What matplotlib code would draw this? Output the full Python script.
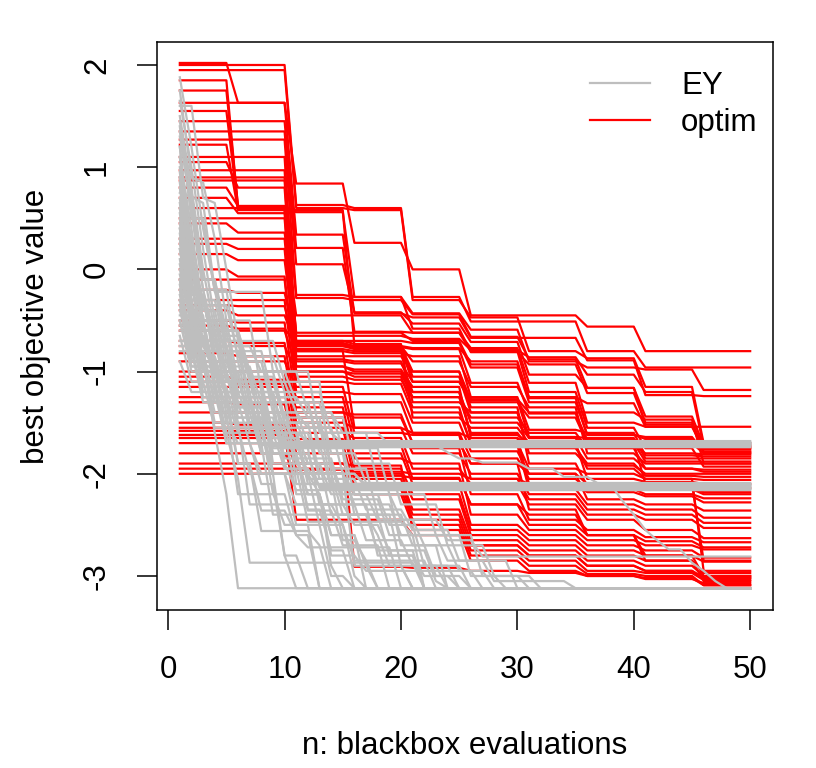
import matplotlib
matplotlib.use("Agg")
import matplotlib.pyplot as plt
from matplotlib.lines import Line2D
import numpy as np

plt.rcParams['font.family'] = ['Liberation Sans', 'DejaVu Sans']

n = np.arange(1, 51)

# optim runs: best value in each block of 5 evaluations (1-5, 6-10, ..., 46-50)
optim_blocks = [
    [2.02, 1.63, 0.84, 0.26, 0.00, -0.45, -0.45, -0.56, -0.80, -0.80],
    [2.00, 2.00, 0.63, 0.60, -0.27, -0.51, -0.51, -0.80, -0.96, -0.96],
    [1.85, 0.60, 0.56, -0.27, -0.43, -0.59, -0.90, -0.96, -0.98, -1.18],
    [1.63, 1.63, 0.34, -0.43, -0.47, -0.67, -0.67, -0.89, -1.23, -1.24],
    [1.45, 1.45, 0.21, -0.61, -0.62, -0.77, -1.11, -1.50, -1.54, -1.54],
    [1.35, 1.35, 0.05, -0.42, -0.53, -0.71, -1.03, -1.16, -1.44, -1.72],
    [1.27, 1.27, -0.25, -0.27, -0.58, -0.81, -0.93, -1.21, -1.50, -1.74],
    [1.22, 0.58, -0.62, -0.62, -0.70, -0.93, -1.25, -1.31, -1.54, -1.76],
    [1.10, 1.10, -0.70, -0.70, -0.72, -0.96, -1.30, -1.62, -1.64, -1.78],
    [0.97, 0.97, -0.75, -0.76, -0.78, -1.11, -1.41, -1.67, -1.70, -1.80],
    [0.87, 0.87, -0.80, -0.82, -0.85, -1.25, -1.57, -1.60, -1.82, -1.83],
    [0.80, 0.62, -0.85, -0.85, -1.00, -1.28, -1.64, -1.65, -1.85, -1.85],
    [0.70, 0.55, -0.90, -0.92, -1.10, -1.30, -1.45, -1.70, -1.88, -1.88],
    [0.60, 0.60, -0.72, -0.75, -0.90, -1.15, -1.35, -1.80, -1.90, -1.90],
    [0.45, 0.36, -0.45, -0.45, -0.62, -0.80, -1.20, -1.55, -1.75, -1.93],
    [0.30, 0.30, -0.95, -1.00, -1.20, -1.50, -1.65, -1.85, -1.95, -1.96],
    [0.15, 0.09, -0.78, -0.80, -1.30, -1.40, -1.80, -1.92, -2.00, -2.00],
    [0.00, -0.07, -1.05, -1.08, -1.25, -1.60, -1.75, -1.90, -2.02, -2.03],
    [-0.10, -0.10, -1.10, -1.12, -1.40, -1.70, -1.95, -2.00, -2.05, -2.06],
    [-0.20, -0.23, -0.70, -0.73, -1.45, -1.55, -1.70, -2.05, -2.08, -2.10],
    [-0.30, -0.30, -1.20, -1.22, -1.50, -1.78, -2.00, -2.10, -2.12, -2.14],
    [-0.40, -0.45, -0.75, -0.75, -1.00, -1.35, -1.90, -2.12, -2.15, -2.18],
    [-0.50, -0.52, -1.30, -1.30, -1.60, -1.85, -2.05, -2.15, -2.20, -2.24],
    [-0.60, -0.60, -0.95, -0.98, -1.15, -1.65, -2.10, -2.18, -2.22, -2.28],
    [-0.70, -0.72, -1.40, -1.45, -1.70, -1.90, -2.00, -2.25, -2.30, -2.36],
    [-0.75, -0.75, -1.00, -1.05, -1.35, -1.72, -2.15, -2.30, -2.35, -2.43],
    [-0.82, -0.85, -1.50, -1.55, -1.80, -2.00, -2.20, -2.35, -2.40, -2.48],
    [-0.90, -0.90, -1.15, -1.60, -1.62, -2.05, -2.25, -2.40, -2.45, -2.53],
    [-1.00, -1.00, -1.60, -1.65, -1.95, -2.10, -2.30, -2.45, -2.55, -2.63],
    [-1.05, -1.08, -1.25, -1.70, -1.75, -2.20, -2.45, -2.55, -2.62, -2.67],
    [-1.15, -1.15, -1.70, -1.72, -2.05, -2.30, -2.50, -2.60, -2.66, -2.72],
    [-1.25, -1.25, -1.35, -1.85, -1.90, -2.40, -2.55, -2.65, -2.70, -2.74],
    [-1.30, -1.32, -1.80, -1.80, -2.10, -2.50, -2.60, -2.70, -2.75, -2.82],
    [-1.40, -1.40, -1.45, -1.95, -2.20, -2.55, -2.65, -2.75, -2.80, -2.86],
    [-1.50, -1.52, -1.90, -2.00, -2.25, -2.60, -2.70, -2.80, -2.85, -2.97],
    [-1.55, -1.55, -1.55, -2.05, -2.35, -2.65, -2.75, -2.85, -2.90, -3.00],
    [-1.62, -1.62, -1.95, -2.10, -2.40, -2.70, -2.80, -2.90, -2.95, -3.02],
    [-1.70, -1.70, -1.70, -2.15, -2.45, -2.75, -2.85, -2.95, -2.97, -3.04],
    [-1.80, -1.80, -2.00, -2.20, -2.50, -2.80, -2.90, -2.98, -3.00, -3.09],
    [-1.90, -1.90, -1.90, -1.92, -2.55, -2.85, -2.95, -3.00, -3.02, -3.09],
    [-1.95, -1.95, -1.96, -1.98, -2.00, -2.05, -2.10, -2.12, -2.15, -2.20],
    [-2.00, -2.00, -2.00, -2.02, -2.04, -2.30, -2.40, -2.60, -2.85, -3.05],
    [1.95, 1.95, 0.60, 0.58, -0.30, -0.47, -0.80, -0.87, -1.15, -1.70],
    [1.75, 0.62, -0.65, -0.65, -0.68, -0.79, -0.86, -1.03, -1.20, -1.73],
    [1.55, 0.60, 0.58, -0.75, -0.77, -0.90, -1.26, -1.62, -1.66, -1.75],
    [1.05, 0.80, -0.75, -0.78, -1.10, -1.27, -1.40, -1.40, -1.47, -1.90],
    [0.90, 0.90, -0.28, -0.30, -0.44, -0.66, -0.88, -1.16, -1.52, -1.79],
    [0.50, 0.50, -0.88, -0.90, -1.20, -1.62, -1.70, -1.72, -1.80, -1.81],
    [0.25, 0.20, -1.00, -1.02, -1.25, -1.45, -1.60, -1.75, -1.95, -1.98],
    [-0.35, -0.36, -0.80, -1.55, -1.60, -1.65, -1.72, -1.95, -2.05, -2.95],
    [-1.10, -1.12, -1.40, -1.42, -1.70, -1.90, -2.35, -2.60, -2.80, -3.00],
    [-0.55, -0.58, -0.73, -0.76, -1.05, -1.40, -1.65, -1.70, -2.10, -2.85],
    [-1.58, -1.58, -2.45, -2.45, -2.60, -2.70, -2.80, -2.90, -2.95, -3.02],
    [-1.65, -1.65, -1.66, -2.91, -2.92, -2.95, -2.97, -3.00, -3.03, -3.07],
]

# EY runs: (evaluation, new best value) whenever the best value improves
ey_changes = [
    [(1, 1.88), (2, 1.2), (3, 0.4), (4, -0.2), (6, -0.9), (9, -1.4), (12, -1.7)],
    [(1, 1.75), (2, 0.9), (3, 0.85), (4, 0.3), (5, -0.5), (8, -1.2), (11, -2.1)],
    [(1, 1.6), (3, 0.7), (4, 0.65), (5, 0.0), (6, -0.7), (10, -1.1), (14, -2.0), (16, -2.9), (18, -3.12)],
    [(1, 1.4), (2, 0.5), (4, -0.22), (8, -0.22), (9, -1.0), (13, -1.6), (15, -1.7)],
    [(1, 1.2), (2, 0.2), (3, -0.5), (5, -1.0), (7, -1.5), (9, -2.19), (10, -2.5), (13, -3.12)],
    [(1, 1.0), (2, -0.1), (3, -0.9), (4, -1.6), (5, -2.2), (6, -3.12)],
    [(1, 0.85), (2, 0.0), (3, -0.6), (5, -1.3), (8, -1.8), (12, -2.36), (15, -2.7), (19, -3.12)],
    [(1, 0.7), (2, -0.3), (4, -0.8), (7, -1.2), (10, -1.69)],
    [(1, 0.5), (2, -0.4), (3, -0.75), (6, -1.1), (10, -1.5), (14, -2.12)],
    [(1, 0.3), (2, -0.5), (4, -1.0), (7, -1.6), (11, -2.2), (14, -2.6), (17, -2.9), (21, -3.12)],
    [(1, 0.1), (2, -0.6), (3, -1.2), (5, -1.7), (8, -2.1), (10, -2.8), (12, -3.12)],
    [(1, -0.1), (2, -0.7), (4, -1.05), (6, -1.35), (9, -1.71)],
    [(1, -0.3), (3, -0.9), (5, -1.25), (8, -1.6), (12, -1.9), (15, -2.3), (18, -2.8), (22, -3.12)],
    [(1, -0.4), (2, -0.85), (5, -1.2), (9, -1.8), (13, -2.14)],
    [(1, -0.55), (3, -1.0), (6, -1.5), (9, -2.0), (11, -2.5), (14, -3.0), (16, -3.12)],
    [(1, -0.7), (3, -1.1), (7, -1.4), (12, -1.55), (15, -2.0), (17, -2.11)],
    [(1, 0.2), (2, -0.2), (3, -0.25), (4, -0.95), (8, -1.3), (13, -1.72)],
    [(1, 1.3), (2, 0.6), (3, -0.1), (5, -0.6), (7, -1.0), (11, -1.3), (14, -1.8), (16, -2.4), (20, -2.9), (24, -3.12)],
    [(1, 0.9), (2, 0.3), (3, -0.35), (6, -0.85), (10, -1.2), (14, -1.6), (18, -2.1), (20, -2.15)],
    [(1, 0.6), (3, -0.2), (5, -0.75), (8, -1.0), (12, -1.4), (15, -1.75), (19, -2.2), (23, -2.6), (27, -3.0), (29, -3.12)],
    [(1, 0.4), (2, -0.3), (4, -0.7), (7, -1.1), (11, -1.4), (15, -1.6), (19, -1.72), (24, -1.79), (25, -1.85),
     (27, -1.89), (31, -1.95), (34, -2.03), (37, -2.1), (39, -2.26), (40, -2.4), (41, -2.55), (42, -2.65),
     (43, -2.74), (45, -2.87), (46, -2.95), (47, -3.05), (48, -3.12)],
    [(1, -0.2), (2, -0.8), (4, -1.3), (8, -1.7), (12, -2.0), (16, -2.2), (20, -2.45), (24, -2.65), (27, -2.81)],
    [(1, 1.5), (2, 0.8), (3, 0.0), (4, -0.6), (6, -1.2), (9, -1.6), (12, -1.68)],
    [(1, 1.1), (2, 0.4), (3, -0.4), (5, -0.9), (9, -1.3), (13, -1.8), (17, -2.09)],
    [(1, 0.0), (2, -0.5), (5, -0.8), (9, -1.25), (12, -1.45), (16, -1.9), (20, -2.3), (24, -2.7), (28, -3.0), (31, -3.12)],
    [(1, -0.5), (2, -0.95), (5, -1.4), (8, -1.8), (12, -2.2), (14, -2.6), (17, -3.12)],
    [(1, -0.8), (3, -1.3), (6, -1.9), (8, -2.36), (11, -2.6), (13, -3.12)],
    [(1, 0.8), (2, -0.1), (3, -0.7), (5, -1.0), (8, -1.4), (10, -1.74)],
    [(1, 1.65), (2, 1.0), (3, 0.2), (4, -0.5), (6, -1.1), (9, -1.9), (11, -2.16)],
    [(1, 0.35), (2, -0.45), (4, -1.15), (6, -1.55), (11, -1.9), (14, -2.4), (18, -2.75), (22, -3.12)],
    [(1, -0.6), (3, -1.15), (5, -1.6), (9, -2.0), (13, -2.5), (16, -2.85), (18, -3.12)],
    [(1, -0.3), (2, -0.9), (4, -1.5), (6, -1.7), (9, -1.73)],
    [(1, 0.55), (2, -0.2), (4, -0.65), (7, -1.05), (10, -1.5), (13, -2.0), (17, -2.13)],
    [(1, 0.15), (3, -0.6), (5, -1.1), (9, -1.6), (12, -1.9), (15, -2.2), (19, -2.5), (22, -2.9), (25, -3.12)],
    [(1, 1.2), (2, 0.1), (3, -0.3), (5, -0.8), (7, -1.3), (10, -1.85), (12, -2.2), (14, -2.9), (15, -3.12)],
    [(1, -0.9), (2, -1.2), (5, -1.45), (9, -1.7), (12, -2.0), (15, -2.4), (19, -2.8), (22, -3.0), (26, -3.12)],
    [(1, -0.45), (3, -0.9), (6, -1.25), (10, -1.55), (14, -1.72)],
    [(1, 0.75), (2, 0.71), (3, 0.65), (4, -0.2), (5, -0.6), (7, -1.0), (10, -1.45), (14, -1.95), (18, -2.4), (21, -2.7), (24, -3.12)],
    [(1, -0.15), (2, -0.75), (4, -1.0), (6, -1.3), (9, -1.65), (12, -2.0), (16, -2.3), (20, -2.6), (26, -3.0), (32, -3.12)],
    [(1, 0.45), (2, -0.35), (3, -0.9), (6, -1.2), (10, -1.7), (14, -2.15)],
    [(1, 0.6), (2, -0.4), (3, -1.0), (5, -1.5), (7, -2.3), (15, -2.5), (16, -3.0), (17, -3.12)],
    [(1, -0.1), (2, -0.9), (4, -1.4), (6, -2.2), (11, -2.6), (12, -2.72), (20, -3.12)],
    [(1, 0.9), (2, 0.2), (3, -0.5), (4, -1.2), (6, -1.9), (8, -2.56), (13, -2.7), (14, -3.12)],
    [(1, -0.25), (2, -0.8), (4, -1.3), (7, -1.7), (9, -2.4), (18, -2.6), (19, -2.9), (21, -3.12)],
    [(1, 0.2), (2, -0.6), (3, -1.1), (5, -1.7), (8, -2.0), (13, -2.2), (14, -2.8), (17, -2.95), (27, -3.12)],
    [(1, 1.1), (2, 0.1), (3, -0.6), (5, -1.1), (8, -1.5), (12, -1.75), (16, -2.2), (20, -2.7), (23, -3.0), (25, -3.12)],
    [(1, -0.5), (2, -1.0), (5, -1.35), (9, -1.6), (13, -2.05), (17, -2.35), (21, -2.55), (25, -2.85), (30, -3.12)],
    [(1, 0.3), (2, -0.3), (4, -0.8), (6, -1.3), (9, -1.75), (13, -2.3), (17, -2.65), (21, -2.9), (26, -3.12)],
    [(1, -0.65), (2, -1.1), (4, -1.55), (7, -2.0), (11, -2.3), (16, -2.5), (19, -2.75), (23, -3.05), (24, -3.12)],
    [(1, 1.45), (2, 0.7), (3, -0.1), (5, -0.7), (7, -1.3), (10, -1.95), (12, -2.47), (21, -2.6), (22, -3.12)],
    [(1, 0.05), (2, -0.5), (3, -1.0), (6, -1.45), (10, -1.9), (14, -2.2), (18, -2.45), (22, -2.7), (25, -2.95), (28, -3.12)],
    [(1, -0.35), (2, -0.95), (5, -1.25), (8, -1.7), (12, -2.05), (15, -2.65), (17, -2.85), (23, -3.12)],
    [(1, 0.65), (2, -0.15), (3, -0.7), (5, -1.2), (8, -1.72)],
    [(1, -0.05), (2, -0.55), (4, -1.2), (7, -1.5), (11, -1.7)],
    [(1, 0.95), (2, 0.15), (3, -0.5), (5, -1.0), (8, -1.6), (12, -2.1)],
    [(1, -0.75), (3, -1.25), (6, -1.6), (10, -1.95), (13, -2.12)],
    [(1, 0.25), (2, -0.3), (3, -0.75), (6, -1.2), (9, -2.0), (10, -2.8), (11, -3.12)],
    [(1, -0.2), (2, -0.65), (4, -1.1), (5, -1.6), (6, -2.05), (7, -2.87), (22, -3.12)],
    [(1, 1.35), (2, 0.55), (3, -0.2), (4, -0.8), (6, -1.4), (9, -1.8), (12, -2.35), (14, -2.75), (16, -3.12)],
    [(1, 0.4), (2, -0.25), (4, -0.9), (7, -1.4), (11, -1.85), (15, -2.25), (19, -2.6), (24, -2.85), (28, -3.05), (35, -3.12)],
]

red = '#FF0000'
grey = '#BEBEBE'


def expand_changes(changes):
    # hold each best value until the next improvement
    vals = np.empty(len(n))
    for start, v in changes:
        vals[start - 1:] = v
    return vals


fig = plt.figure(figsize=(8.16, 7.68), dpi=100)
ax = fig.add_axes([157 / 816, 1 - 610 / 768, 616 / 816, 568 / 768])

for b in optim_blocks:
    ax.plot(n, np.repeat(b, 5), color=red, lw=1.6)

for c in ey_changes:
    ax.plot(n, expand_changes(c), color=grey, lw=1.6)

ax.set_xlim(-0.96, 51.96)
ax.set_ylim(-3.333, 2.225)
ax.set_xticks([0, 10, 20, 30, 40, 50])
ax.set_yticks([-3, -2, -1, 0, 1, 2])
ax.set_yticklabels(['-3', '-2', '-1', '0', '1', '2'], rotation=90, va='center')
ax.tick_params(direction='out', length=14.4, width=1.1, labelsize=22.5, pad=18)
for s in ax.spines.values():
    s.set_linewidth(1.1)

ax.set_xlabel('n: blackbox evaluations', fontsize=22.5, labelpad=33)
ax.set_ylabel('best objective value', fontsize=22.5, labelpad=22)

handles = [Line2D([], [], color=grey, lw=1.6), Line2D([], [], color=red, lw=1.6)]
ax.legend(handles, ['EY', 'optim'], loc='upper right', frameon=False, fontsize=22.5,
          handlelength=1.9, handletextpad=1.0, labelspacing=0.2,
          bbox_to_anchor=(1.018, 0.995), borderaxespad=0.45)

fig.savefig('out.png', dpi=100)
